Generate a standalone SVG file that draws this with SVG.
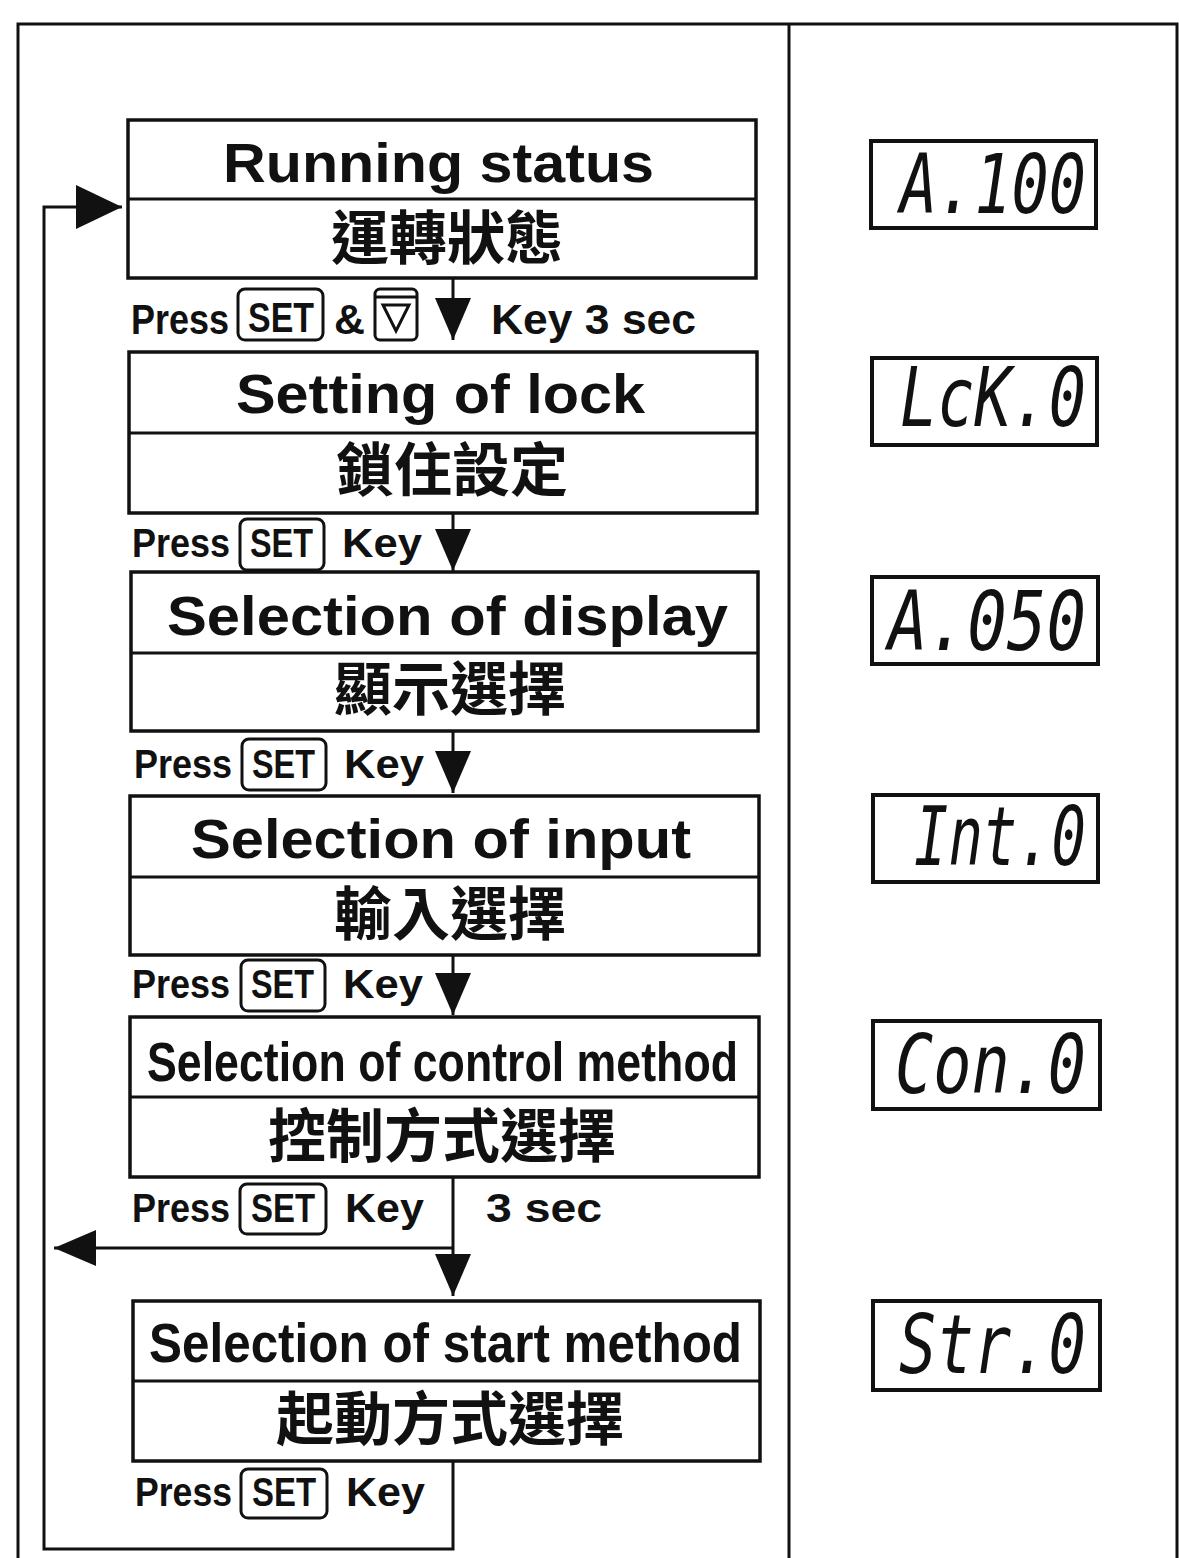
<svg xmlns="http://www.w3.org/2000/svg" width="1179" height="1558" viewBox="0 0 1179 1558">
<style>
.box{fill:#fff;stroke:#111;stroke-width:3.5}
.dv{stroke:#111;stroke-width:3}
.ln{fill:none;stroke:#111;stroke-width:3}
.t{font-family:"Liberation Sans",Arial,sans-serif;font-weight:bold;fill:#111}
.ti{font-size:56px}
.lb{font-size:40px}
.cjk{font-family:"Noto Sans CJK TC","Noto Sans CJK SC",sans-serif;font-weight:bold;font-size:58px;text-anchor:middle;fill:#111}
.key{fill:#fff;stroke:#111;stroke-width:3}
.disp{fill:#fff;stroke:#111;stroke-width:4}
.seg{font-family:"DejaVu Sans Mono",monospace;font-style:italic;font-size:82px;fill:#111}
</style>
<defs>
<marker id="ah" markerUnits="userSpaceOnUse" markerWidth="42" markerHeight="36" refX="42" refY="18" orient="auto" viewBox="0 0 42 36">
<path d="M0,0 L42,18 L0,36 z" fill="#111"/>
</marker>
<marker id="ahBig" markerUnits="userSpaceOnUse" markerWidth="46" markerHeight="44" refX="46" refY="22" orient="auto" viewBox="0 0 46 44">
<path d="M0,0 L46,22 L0,44 z" fill="#111"/>
</marker>
</defs>
<rect width="1179" height="1558" fill="#fff"/>
<g id="frame" class="ln">
<path d="M18,1558 L18,24 L1177,24 L1177,1558"/>
<line x1="789" y1="24" x2="789" y2="1558"/>
</g>

<g id="connectors">
<path class="ln" d="M453,1461 L453,1549 L44,1549 L44,207 L122,207" marker-end="url(#ahBig)"/>
<line class="ln" x1="453" y1="278" x2="453" y2="340" marker-end="url(#ah)"/>
<line class="ln" x1="453" y1="513" x2="453" y2="571" marker-end="url(#ah)"/>
<line class="ln" x1="453" y1="731" x2="453" y2="793" marker-end="url(#ah)"/>
<line class="ln" x1="453" y1="955" x2="453" y2="1015" marker-end="url(#ah)"/>
<line class="ln" x1="453" y1="1177" x2="453" y2="1296" marker-end="url(#ah)"/>
<line class="ln" x1="453" y1="1248" x2="54" y2="1248" marker-end="url(#ah)"/>
</g>

<g id="node-running">
<rect class="box" x="128" y="120" width="628" height="158"/>
<line class="dv" x1="128" y1="199" x2="756" y2="199"/>
<text class="t ti" x="223" y="182" textLength="431" lengthAdjust="spacingAndGlyphs">Running status</text>
<text class="cjk" x="447" y="259">運轉狀態</text>
</g>
<g id="node-lock">
<rect class="box" x="129" y="352" width="628" height="161"/>
<line class="dv" x1="129" y1="433" x2="757" y2="433"/>
<text class="t ti" x="236" y="413" textLength="409" lengthAdjust="spacingAndGlyphs">Setting of lock</text>
<text class="cjk" x="452" y="491">鎖住設定</text>
</g>
<g id="node-display">
<rect class="box" x="131" y="572" width="627" height="159"/>
<line class="dv" x1="131" y1="653" x2="758" y2="653"/>
<text class="t ti" x="167" y="635" textLength="561" lengthAdjust="spacingAndGlyphs">Selection of display</text>
<text class="cjk" x="450" y="710">顯示選擇</text>
</g>
<g id="node-input">
<rect class="box" x="130" y="796" width="629" height="159"/>
<line class="dv" x1="130" y1="877" x2="759" y2="877"/>
<text class="t ti" x="191" y="858" textLength="500" lengthAdjust="spacingAndGlyphs">Selection of input</text>
<text class="cjk" x="450" y="935">輸入選擇</text>
</g>
<g id="node-control">
<rect class="box" x="130" y="1017" width="629" height="160"/>
<line class="dv" x1="130" y1="1097" x2="759" y2="1097"/>
<text class="t ti" x="147" y="1081" textLength="591" lengthAdjust="spacingAndGlyphs">Selection of control method</text>
<text class="cjk" x="442" y="1157">控制方式選擇</text>
</g>
<g id="node-start">
<rect class="box" x="133" y="1301" width="627" height="160"/>
<line class="dv" x1="133" y1="1381" x2="760" y2="1381"/>
<text class="t ti" x="149" y="1362" textLength="593" lengthAdjust="spacingAndGlyphs">Selection of start method</text>
<text class="cjk" x="450" y="1440">起動方式選擇</text>
</g>

<g id="label-1">
<text class="t" font-size="43" x="131" y="334" textLength="98" lengthAdjust="spacingAndGlyphs">Press</text>
<rect class="key" x="238" y="289" width="85" height="51" rx="7"/>
<text class="t" font-size="43" x="248" y="332" textLength="66" lengthAdjust="spacingAndGlyphs">SET</text>
<text class="t" font-size="43" x="334" y="334" textLength="31" lengthAdjust="spacingAndGlyphs">&amp;</text>
<rect class="key" x="375" y="289" width="42" height="51" rx="5"/>
<line class="dv" x1="376" y1="297" x2="416" y2="297"/>
<path class="ln" d="M383,305 L409,305 L396,331 z"/>
<text class="t" font-size="43" x="491" y="334" textLength="205" lengthAdjust="spacingAndGlyphs">Key 3 sec</text>
</g>
<g id="label-2">
<text class="t lb" x="132" y="557" textLength="98" lengthAdjust="spacingAndGlyphs">Press</text>
<rect class="key" x="240" y="519" width="84" height="51" rx="7"/>
<text class="t lb" x="250" y="557" textLength="63" lengthAdjust="spacingAndGlyphs">SET</text>
<text class="t lb" x="342" y="557" textLength="80" lengthAdjust="spacingAndGlyphs">Key</text>
</g>
<g id="label-3">
<text class="t lb" x="134" y="778" textLength="98" lengthAdjust="spacingAndGlyphs">Press</text>
<rect class="key" x="242" y="739" width="84" height="51" rx="7"/>
<text class="t lb" x="252" y="778" textLength="63" lengthAdjust="spacingAndGlyphs">SET</text>
<text class="t lb" x="344" y="778" textLength="80" lengthAdjust="spacingAndGlyphs">Key</text>
</g>
<g id="label-4">
<text class="t lb" x="132" y="998" textLength="98" lengthAdjust="spacingAndGlyphs">Press</text>
<rect class="key" x="241" y="960" width="84" height="51" rx="7"/>
<text class="t lb" x="251" y="998" textLength="63" lengthAdjust="spacingAndGlyphs">SET</text>
<text class="t lb" x="343" y="998" textLength="80" lengthAdjust="spacingAndGlyphs">Key</text>
</g>
<g id="label-5">
<text class="t lb" x="132" y="1222" textLength="98" lengthAdjust="spacingAndGlyphs">Press</text>
<rect class="key" x="240" y="1184" width="86" height="50" rx="7"/>
<text class="t lb" x="251" y="1222" textLength="64" lengthAdjust="spacingAndGlyphs">SET</text>
<text class="t lb" x="345" y="1222" textLength="79" lengthAdjust="spacingAndGlyphs">Key</text>
<text class="t lb" x="486" y="1222" textLength="116" lengthAdjust="spacingAndGlyphs">3 sec</text>
</g>
<g id="label-6">
<text class="t lb" x="135" y="1506" textLength="97" lengthAdjust="spacingAndGlyphs">Press</text>
<rect class="key" x="241" y="1469" width="86" height="49" rx="7"/>
<text class="t lb" x="252" y="1506" textLength="64" lengthAdjust="spacingAndGlyphs">SET</text>
<text class="t lb" x="346" y="1506" textLength="79" lengthAdjust="spacingAndGlyphs">Key</text>
</g>

<g id="disp-1">
<rect class="disp" x="871" y="141" width="225" height="87"/>
<text class="seg" x="900" y="213" textLength="186" lengthAdjust="spacingAndGlyphs">A.100</text>
</g>
<g id="disp-2">
<rect class="disp" x="872" y="358" width="225" height="87"/>
<text class="seg" x="900" y="426" textLength="186" lengthAdjust="spacingAndGlyphs">LcK.0</text>
</g>
<g id="disp-3">
<rect class="disp" x="872" y="577" width="226" height="87"/>
<text class="seg" x="888" y="650" textLength="198" lengthAdjust="spacingAndGlyphs">A.050</text>
</g>
<g id="disp-4">
<rect class="disp" x="873" y="795" width="225" height="87"/>
<text class="seg" x="914" y="865" textLength="172" lengthAdjust="spacingAndGlyphs">Int.0</text>
</g>
<g id="disp-5">
<rect class="disp" x="873" y="1021" width="227" height="88"/>
<text class="seg" x="895" y="1093" textLength="191" lengthAdjust="spacingAndGlyphs">Con.0</text>
</g>
<g id="disp-6">
<rect class="disp" x="873" y="1301" width="227" height="89"/>
<text class="seg" x="899" y="1373" textLength="187" lengthAdjust="spacingAndGlyphs">Str.0</text>
</g>
</svg>
